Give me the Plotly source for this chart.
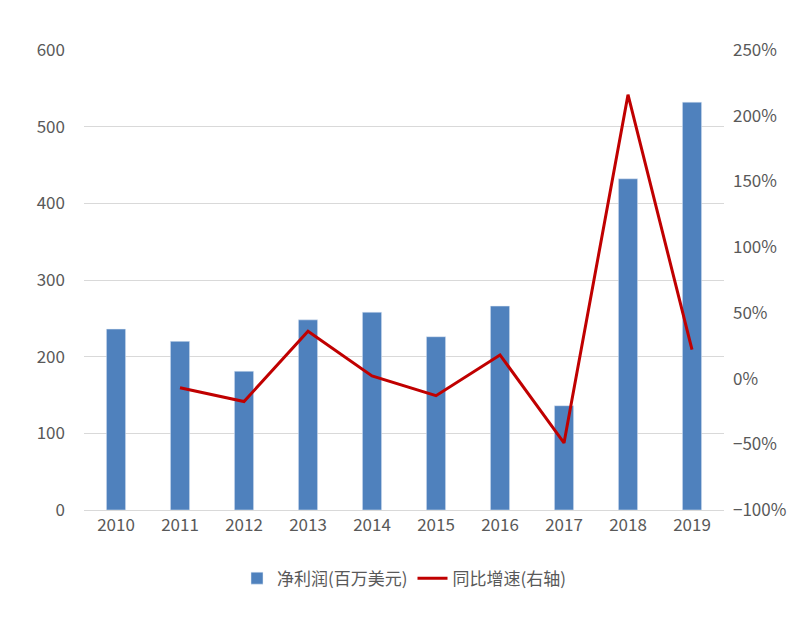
import plotly.graph_objects as go

years = ["2010", "2011", "2012", "2013", "2014", "2015", "2016", "2017", "2018", "2019"]
net_profit = [236, 220, 181, 248, 258, 226, 266, 136, 432, 532]
yoy_growth = [None, -0.07, -0.175, 0.36, 0.02, -0.13, 0.18, -0.49, 2.16, 0.22]

fig = go.Figure()
fig.add_trace(go.Bar(x=years, y=net_profit, name="净利润(百万美元)",
                     marker_color="#4F81BD", width=0.3))
fig.add_trace(go.Scatter(x=years, y=yoy_growth, name="同比增速(右轴)", yaxis="y2",
                         mode="lines", line=dict(color="#C00000", width=3)))

fig.update_layout(
    width=800, height=622,
    plot_bgcolor="white", paper_bgcolor="white",
    font=dict(family="Noto Sans CJK SC", size=17, color="#595959"),
    margin=dict(l=76, r=84, t=42, b=120),
    bargap=0.6,
    xaxis=dict(showline=True, linecolor="#D9D9D9", ticks=""),
    yaxis=dict(range=[0, 600], dtick=100, gridcolor="#D9D9D9", zeroline=False,
               ticklabelstandoff=18),
    yaxis2=dict(overlaying="y", side="right", range=[-1, 2.5], dtick=0.5,
                tickformat=".0%", showgrid=False, zeroline=False, ticklabelstandoff=8),
    legend=dict(orientation="h", x=0.5, xanchor="center", y=-0.11, yanchor="top",
                font=dict(size=17)),
)

fig.write_html("out.html")
